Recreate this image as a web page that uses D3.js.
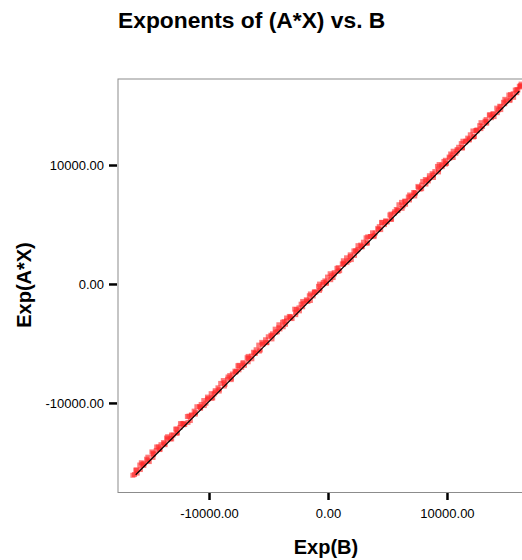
<!DOCTYPE html>
<html>
<head>
<meta charset="utf-8">
<script src="https://cdn.jsdelivr.net/npm/d3@7"></script>
<style>
  body { margin: 0; background: #fff; }
  svg { display: block; font-family: "Liberation Sans", Arial, Helvetica, sans-serif; }
</style>
</head>
<body>
<div id="chart"></div>
<script>
// observed exponents: B on x, A*X on y
expB = [-16400, -16130, -16040, -15690, -15570, -15480, -15140, -15020, -14710, -14660,
  -14400, -14130, -14040, -13690, -13570, -13480, -13140, -13020, -12710, -12660,
  -12400, -12130, -12040, -11690, -11570, -11480, -11140, -11020, -10710, -10660,
  -10400, -10130, -10040, -9690, -9570, -9480, -9140, -9020, -8710, -8660,
  -8400, -8130, -8040, -7690, -7570, -7480, -7140, -7020, -6710, -6660,
  -6400, -6130, -6040, -5690, -5570, -5480, -5140, -5020, -4710, -4660,
  -4400, -4130, -4040, -3690, -3570, -3480, -3140, -3020, -2710, -2660,
  -2400, -2130, -2040, -1690, -1570, -1480, -1140, -1020, -710, -660,
  -400, -130, -40, 310, 430, 520, 860, 980, 1290, 1340,
  1600, 1870, 1960, 2310, 2430, 2520, 2860, 2980, 3290, 3340,
  3600, 3870, 3960, 4310, 4430, 4520, 4860, 4980, 5290, 5340,
  5600, 5870, 5960, 6310, 6430, 6520, 6860, 6980, 7290, 7340,
  7600, 7870, 7960, 8310, 8430, 8520, 8860, 8980, 9290, 9340,
  9600, 9870, 9960, 10310, 10430, 10520, 10860, 10980, 11290, 11340,
  11600, 11870, 11960, 12310, 12430, 12520, 12860, 12980, 13290, 13340,
  13600, 13870, 13960, 14310, 14430, 14520, 14860, 14980, 15290, 15340,
  15600, 15870, 15960, 16080, 16170, 16230,
  -16260, -16130, -15820, -15770, -15480, -15250, -15150, -14800, -14710, -14440,
  -14260, -14130, -13820, -13770, -13480, -13250, -13150, -12800, -12710, -12440,
  -12260, -12130, -11820, -11770, -11480, -11250, -11150, -10800, -10710, -10440,
  -10260, -10130, -9820, -9770, -9480, -9250, -9150, -8800, -8710, -8440,
  -8260, -8130, -7820, -7770, -7480, -7250, -7150, -6800, -6710, -6440,
  -6260, -6130, -5820, -5770, -5480, -5250, -5150, -4800, -4710, -4440,
  -4260, -4130, -3820, -3770, -3480, -3250, -3150, -2800, -2710, -2440,
  -2260, -2130, -1820, -1770, -1480, -1250, -1150, -800, -710, -440,
  -260, -130, 180, 230, 520, 750, 850, 1200, 1290, 1560,
  1740, 1870, 2180, 2230, 2520, 2750, 2850, 3200, 3290, 3560,
  3740, 3870, 4180, 4230, 4520, 4750, 4850, 5200, 5290, 5560,
  5740, 5870, 6180, 6230, 6520, 6750, 6850, 7200, 7290, 7560,
  7740, 7870, 8180, 8230, 8520, 8750, 8850, 9200, 9290, 9560,
  9740, 9870, 10180, 10230, 10520, 10750, 10850, 11200, 11290, 11560,
  11740, 11870, 12180, 12230, 12520, 12750, 12850, 13200, 13290, 13560,
  13740, 13870, 14180, 14230, 14520, 14750, 14850, 15200, 15290, 15560,
  15740, 15870, 16180]
expAX = [-16080, -15620, -15900, -15030, -15160, -15250, -14560, -14930, -14240, -14310,
  -13700, -13870, -13510, -13510, -12950, -13090, -13030, -12700, -12200, -12520,
  -11740, -11720, -11810, -11110, -11480, -11010, -10790, -10320, -10450, -10130,
  -10220, -9510, -9650, -9580, -9250, -8970, -9000, -8360, -8300, -8430,
  -7820, -8040, -7570, -7340, -6870, -7220, -6610, -6840, -6090, -6270,
  -6290, -5810, -5530, -5550, -4910, -5070, -4910, -4440, -4620, -4190,
  -4050, -3430, -3780, -3160, -3390, -2860, -2750, -2910, -2390, -2150,
  -2260, -1470, -1630, -1460, -990, -1390, -670, -670, -10, -400,
  130, 50, 580, 700, 540, 840, 1370, 1120, 1950, 1750,
  1830, 2450, 2050, 2780, 2780, 3220, 3120, 3510, 3470, 3960,
  3990, 3980, 4280, 4820, 4570, 5180, 5270, 5210, 5870, 5430,
  6070, 6220, 6660, 6570, 6960, 6700, 7480, 7370, 7400, 7660,
  8110, 8010, 8620, 8720, 8660, 9100, 8950, 9450, 9640, 10040,
  9860, 10400, 10140, 10930, 10820, 10630, 11180, 11490, 11430, 12000,
  12010, 12100, 12540, 12400, 12900, 12870, 13560, 13240, 13820, 13520,
  14220, 14260, 14070, 14630, 14940, 14660, 15520, 15390, 15520, 15920,
  15690, 16340, 16310, 16620, 16560, 16800,
  -16020, -15680, -15220, -15600, -15100, -14730, -14850, -14120, -14580, -14010,
  -13700, -13920, -13330, -13420, -12840, -13010, -12700, -12200, -12540, -12060,
  -11740, -11830, -11140, -11640, -11050, -10690, -10940, -10310, -10360, -9800,
  -10020, -9680, -9220, -9600, -9100, -8730, -8850, -8120, -8580, -8010,
  -7700, -7920, -7330, -7420, -6840, -7010, -6700, -6200, -6540, -6060,
  -5740, -5830, -5140, -5640, -5050, -4690, -4940, -4310, -4360, -3800,
  -4020, -3680, -3220, -3600, -3100, -2730, -2850, -2120, -2580, -2010,
  -1700, -1920, -1330, -1420, -840, -1010, -700, -200, -540, -60,
  260, 170, 860, 360, 950, 1310, 1060, 1690, 1640, 2200,
  1980, 2320, 2780, 2400, 2900, 3270, 3150, 3880, 3420, 3990,
  4300, 4080, 4670, 4580, 5160, 4990, 5300, 5800, 5460, 5940,
  6260, 6170, 6860, 6360, 6950, 7310, 7060, 7690, 7640, 8200,
  7980, 8320, 8780, 8400, 8900, 9270, 9150, 9880, 9420, 9990,
  10300, 10080, 10670, 10580, 11160, 10990, 11300, 11800, 11460, 11940,
  12260, 12170, 12860, 12360, 12950, 13310, 13060, 13690, 13640, 14200,
  13980, 14320, 14780, 14400, 14900, 15270, 15150, 15880, 15420, 15990,
  16300, 16080, 16670]
// reference line endpoints [B, A*X]
refLine = [[-16160, -16040], [16080, 16200]]
tickValues = [-10000, 0, 10000]

width = 522
height = 560
plotLeft = 118
plotTop = 79
plotRight = 538
plotBottom = 492.5

svg = d3.select("#chart").append("svg")
  .attr("width", width)
  .attr("height", height)

x = d3.scaleLinear().domain([-17650, 17650]).range([plotLeft, plotRight])
y = d3.scaleLinear().domain([-17530, 17230]).range([plotBottom, plotTop])

svg.append("text")
  .attr("x", 118).attr("y", 28)
  .attr("font-size", 22.8).attr("font-weight", "bold")
  .text("Exponents of (A*X) vs. B")

// plot frame
svg.append("rect")
  .attr("x", plotLeft).attr("y", plotTop)
  .attr("width", plotRight - plotLeft).attr("height", plotBottom - plotTop)
  .attr("fill", "none").attr("stroke", "#8c8c8c").attr("stroke-width", 1)

// plain hyphen for negatives
fmt = function(v) { return d3.format(".2f")(v).replace("\u2212", "-") }

xAxis = svg.append("g")
  .attr("transform", "translate(0," + (plotBottom + 0.5) + ")")
  .call(d3.axisBottom(x).tickValues(tickValues).tickFormat(fmt).tickSizeOuter(0).tickSize(7).tickPadding(9))
yAxis = svg.append("g")
  .attr("transform", "translate(" + (plotLeft - 1) + ",0)")
  .call(d3.axisLeft(y).tickValues(tickValues).tickFormat(fmt).tickSizeOuter(0).tickSize(8).tickPadding(5))

svg.selectAll(".domain").remove()
svg.selectAll(".tick line").attr("stroke", "#000").attr("stroke-width", 2.5)
svg.selectAll(".tick text")
  .attr("fill", "#000")
  .style("font-size", "13px")
  .style("font-family", "Liberation Sans, Arial, sans-serif")

svg.append("text")
  .attr("x", 326).attr("y", 554)
  .attr("text-anchor", "middle")
  .attr("font-size", 20).attr("font-weight", "bold")
  .text("Exp(B)")

svg.append("text")
  .attr("transform", "translate(31,285) rotate(-90)")
  .attr("text-anchor", "middle")
  .attr("font-size", 20).attr("font-weight", "bold")
  .text("Exp(A*X)")

pts = expB.map(function(b, i) { return { b: b, ax: expAX[i] } })

svg.append("g").selectAll("rect.pt")
  .data(pts).enter()
  .append("rect")
  .attr("class", "pt")
  .attr("x", function(d) { return x(d.b) - 2.5 })
  .attr("y", function(d) { return y(d.ax) - 2.5 })
  .attr("width", 5).attr("height", 5)
  .attr("fill", "#ff2a2a")
  .attr("fill-opacity", 0.62)

svg.append("path")
  .datum(refLine)
  .attr("d", d3.line().x(function(d) { return x(d[0]) }).y(function(d) { return y(d[1]) }))
  .attr("fill", "none")
  .attr("stroke", "#000")
  .attr("stroke-width", 1.2)
</script>
</body>
</html>
